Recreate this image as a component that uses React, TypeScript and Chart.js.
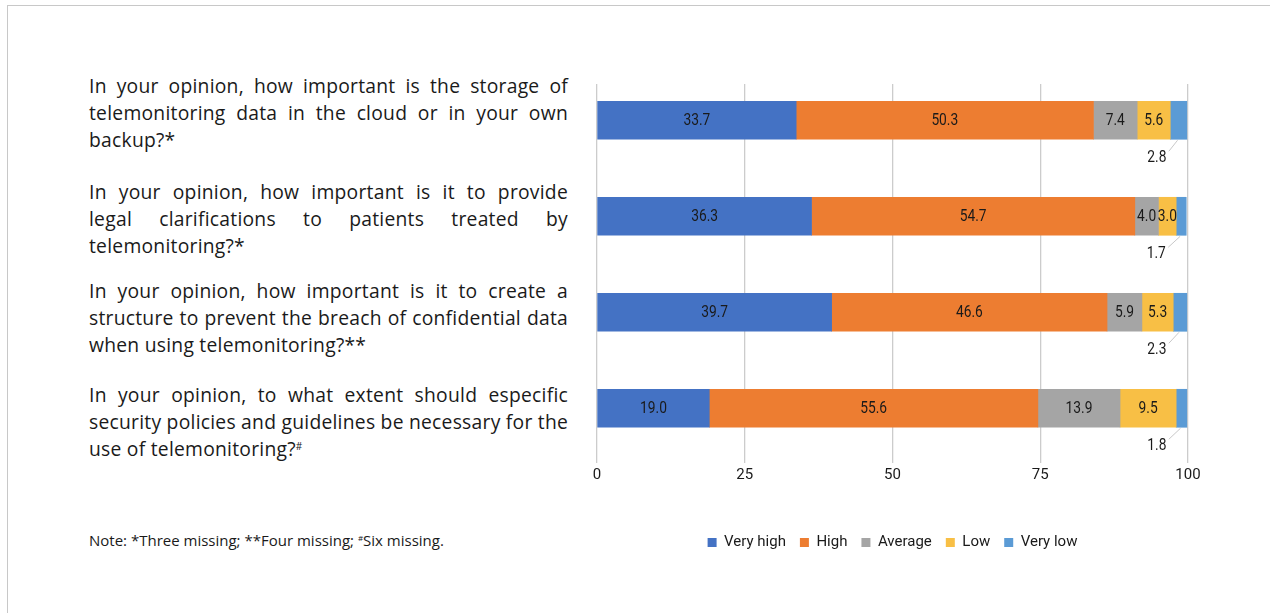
import React, { useEffect, useRef } from "react";
import { Chart, registerables } from "chart.js";

Chart.register(...registerables);

// ---------- data ----------
const categories = ["Storage", "Legal clarifications", "Structure", "Security policies"];
const seriesNames = ["Very high", "High", "Average", "Low", "Very low"];
const veryHigh = [33.7, 36.3, 39.7, 19.0];
const high = [50.3, 54.7, 46.6, 55.6];
const average = [7.4, 4.0, 5.9, 13.9];
const low = [5.6, 3.0, 5.3, 9.5];
const veryLow = [2.8, 1.7, 2.3, 1.8];
const xTickValues = [0, 25, 50, 75, 100];

const questionLines = [
  ["In your opinion, how important is the storage of", "telemonitoring data in the cloud or in your own", "backup?*"],
  ["In your opinion, how important is it to provide", "legal clarifications to patients treated by", "telemonitoring?*"],
  ["In your opinion, how important is it to create a", "structure to prevent the breach of confidential data", "when using telemonitoring?**"],
  ["In your opinion, to what extent should especific", "security policies and guidelines be necessary for the", "use of telemonitoring?#"],
];
const questionTops = [72, 178, 277, 381];

const colors = ["#4472C4", "#ED7D31", "#A5A5A5", "#F8BF45", "#5B9BD5"];
const seriesValues = [veryHigh, high, average, low, veryLow];

const LABEL_FONT = "Roboto, 'Liberation Sans', sans-serif";
const TEXT_FONT = "'Open Sans', Lato, sans-serif";

function drawCondensed(ctx: any, txt: string, x: number, y: number) {
  ctx.save();
  ctx.translate(x, y);
  ctx.scale(0.86, 1);
  ctx.fillText(txt, 0, 0);
  ctx.restore();
}

const labelPlugin = {
  id: "segLabels",
  afterDatasetsDraw(chart: any) {
    const ctx = chart.ctx;
    ctx.save();
    ctx.font = `16px ${LABEL_FONT}`;
    ctx.fillStyle = "#1a1a1a";
    ctx.textAlign = "center";
    ctx.textBaseline = "middle";
    chart.data.datasets.forEach((ds: any, di: number) => {
      const meta = chart.getDatasetMeta(di);
      meta.data.forEach((el: any, i: number) => {
        const v = ds.data[i].x;
        const txt = v.toFixed(1);
        if (di < 4) {
          drawCondensed(ctx, txt, (el.x + el.base) / 2, el.y + 1);
        } else {
          const bottom = el.y + el.height / 2;
          const lx = el.x - 30;
          const ly = bottom + 19;
          ctx.strokeStyle = "#c8c8c8";
          ctx.lineWidth = 1;
          ctx.beginPath();
          ctx.moveTo((el.x + el.base) / 2 - 1, bottom + 1);
          ctx.lineTo(lx + 12, ly - 7);
          ctx.stroke();
          drawCondensed(ctx, txt, lx, ly);
        }
      });
    });
    ctx.restore();
  },
};

function BarChart() {
  const ref = useRef<HTMLCanvasElement | null>(null);
  useEffect(() => {
    if (!ref.current) return;
    const chart = new Chart(ref.current, {
      type: "bar",
      data: {
        datasets: seriesNames.map((name, si) => ({
          label: name,
          data: seriesValues[si].map((v, ci) => ({ x: v, y: ci })),
          backgroundColor: colors[si],
          borderWidth: 0,
          barThickness: 38,
        })),
      },
      options: {
        indexAxis: "y",
        animation: false,
        responsive: false,
        maintainAspectRatio: false,
        layout: { padding: { left: 27, right: 32, top: 14, bottom: 10 } },
        scales: {
          x: {
            type: "linear",
            stacked: true,
            min: 0,
            max: 100,
            afterBuildTicks: (scale: any) => {
              scale.ticks = xTickValues.map((v) => ({ value: v }));
            },
            afterFit: (scale: any) => {
              scale.height += 34;
            },
            grid: { color: "#cccccc", lineWidth: 1.3, drawTicks: false },
            border: { display: false },
            ticks: {
              padding: 3,
              color: "#1a1a1a",
              font: { family: LABEL_FONT, size: 15 },
            },
          },
          y: {
            type: "linear",
            stacked: true,
            reverse: true,
            offset: false,
            min: -0.378,
            max: 3.57,
            display: false,
          },
        },
        plugins: {
          legend: {
            position: "bottom",
            labels: {
              boxWidth: 9,
              boxHeight: 9,
              padding: 14,
              color: "#1a1a1a",
              font: { family: LABEL_FONT, size: 15 },
            },
          },
          tooltip: { enabled: false },
        },
      },
      plugins: [labelPlugin],
    } as any);
    return () => chart.destroy();
  }, []);
  return (
    <canvas
      ref={ref}
      width={650}
      height={500}
      style={{ position: "absolute", left: 570, top: 70, width: 650, height: 500 }}
    />
  );
}

export default function App() {
  return (
    <div
      style={{
        position: "fixed",
        left: 0,
        top: 0,
        width: 1270,
        height: 613,
        overflow: "hidden",
        background: "#ffffff",
      }}
    >
      <div
        style={{
          position: "absolute",
          left: 7,
          top: 5,
          width: 1400,
          height: 800,
          border: "1px solid #c8c8c8",
        }}
      />
      {questionLines.map((lines, qi) => (
        <div
          key={qi}
          style={{
            position: "absolute",
            left: 89,
            top: questionTops[qi],
            width: 479,
            fontFamily: TEXT_FONT,
            fontSize: 19.3,
            letterSpacing: "0.25px",
            lineHeight: "27px",
            color: "#1a1a1a",
          }}
        >
          {lines.map((ln, li) => {
            const last = li === lines.length - 1;
            let content: React.ReactNode = ln;
            if (ln.endsWith("#")) {
              content = (
                <>
                  {ln.slice(0, -1)}
                  <sup style={{ fontSize: 10, verticalAlign: "6px", lineHeight: 0 }}>#</sup>
                </>
              );
            }
            return (
              <div
                key={li}
                style={{
                  whiteSpace: "nowrap",
                  textAlign: last ? "left" : "justify",
                  textAlignLast: last ? "left" : "justify",
                }}
              >
                {content}
              </div>
            );
          })}
        </div>
      ))}
      <div
        style={{
          position: "absolute",
          left: 89,
          top: 530,
          fontFamily: TEXT_FONT,
          fontSize: 15,
          color: "#1a1a1a",
        }}
      >
        Note: *Three missing; **Four missing;{" "}
        <sup style={{ fontSize: 8, verticalAlign: "5px", lineHeight: 0 }}>#</sup>Six missing.
      </div>
      <BarChart />
    </div>
  );
}
